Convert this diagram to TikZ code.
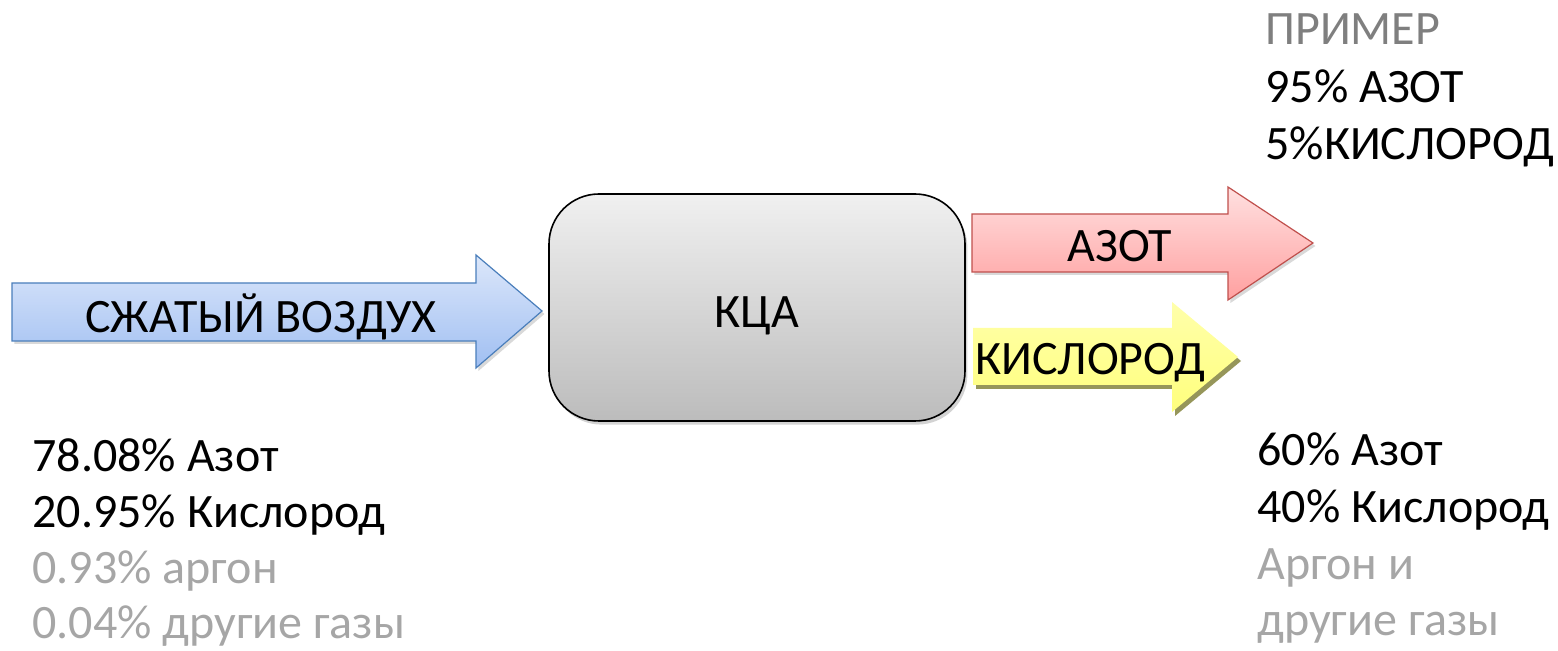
\documentclass[tikz,border=0pt]{standalone}
\usepackage{fontspec}
\setmainfont{Carlito}
\usetikzlibrary{shadows}
\definecolor{airtop}{RGB}{220,231,250}
\definecolor{airbot}{RGB}{160,191,242}
\definecolor{airline}{RGB}{74,126,187}
\definecolor{ntop}{RGB}{255,224,224}
\definecolor{nbot}{RGB}{255,160,160}
\definecolor{nline}{RGB}{192,80,77}
\definecolor{otop}{RGB}{255,255,170}
\definecolor{obot}{RGB}{255,255,125}
\definecolor{oshadow}{RGB}{150,150,90}
\definecolor{boxtop}{RGB}{240,240,240}
\definecolor{boxbot}{RGB}{188,188,188}
\definecolor{lightgas}{RGB}{166,166,166}
\definecolor{notegray}{RGB}{127,127,127}
\tikzset{
  flow/.style={line width=0.6pt, line join=miter,
    drop shadow={opacity=0.3, shadow xshift=1.2pt, shadow yshift=-1.5pt}},
  txt/.style={font=\fontsize{24}{28.5}\selectfont, inner sep=0pt, anchor=base west},
}
\begin{document}
\begin{tikzpicture}[x=0.5pt, y=-0.5pt]
\useasboundingbox (0,0) rectangle (1558,651);
% compressed air in
\shade[flow, draw=airline, top color=airtop, bottom color=airbot]
  (12,283) -- (476,283) -- (476,255) -- (542,311) -- (476,368) -- (476,341) -- (12,341) -- cycle;
\node[txt, anchor=base] (air) at (261,333) {СЖАТЫЙ ВОЗДУХ};
% unit
\node[draw, line width=0.8pt, rounded corners=25pt, minimum width=208pt, minimum height=113.5pt,
  top color=boxtop, bottom color=boxbot, text height=23.5pt,
  drop shadow={opacity=0.35, shadow xshift=1.2pt, shadow yshift=-1.8pt},
  font=\fontsize{24}{28.5}\selectfont] (kca) at (757,307.5) {КЦА};
% nitrogen out
\shade[flow, draw=nline, top color=ntop, bottom color=nbot]
  (972,214) -- (1228,214) -- (1228,187) -- (1313,243) -- (1228,300) -- (1228,272) -- (972,272) -- cycle;
\node[txt, anchor=base] (azot) at (1120,262) {АЗОТ};
% oxygen out
\fill[oshadow] (976,332) -- (1175,332) -- (1175,306) -- (1241,361) -- (1175,416) -- (1175,389) -- (976,389) -- cycle;
\shade[top color=otop, bottom color=obot]
  (973,328) -- (1172,328) -- (1172,302) -- (1238,357) -- (1172,412) -- (1172,385) -- (973,385) -- cycle;
\node[txt] (kisl) at (975,375) {КИСЛОРОД};
% compositions
\node[txt, text=notegray] (ex1) at (1265,45) {ПРИМЕР};
\node[txt] (ex2) at (1265,103) {95\% АЗОТ};
\node[txt] (ex3) at (1265,160) {5\%КИСЛОРОД};
\node[txt] (in1) at (32,472) {78.08\% Азот};
\node[txt] (in2) at (32,528) {20.95\% Кислород};
\node[txt, text=lightgas] (in3) at (32,584) {0.93\% аргон};
\node[txt, text=lightgas] (in4) at (32,639) {0.04\% другие газы};
\node[txt] (out1) at (1257,466) {60\% Азот};
\node[txt] (out2) at (1257,523) {40\% Кислород};
\node[txt, text=lightgas] (out3) at (1257,580) {Аргон и};
\node[txt, text=lightgas] (out4) at (1257,636) {другие газы};
\end{tikzpicture}
\end{document}
